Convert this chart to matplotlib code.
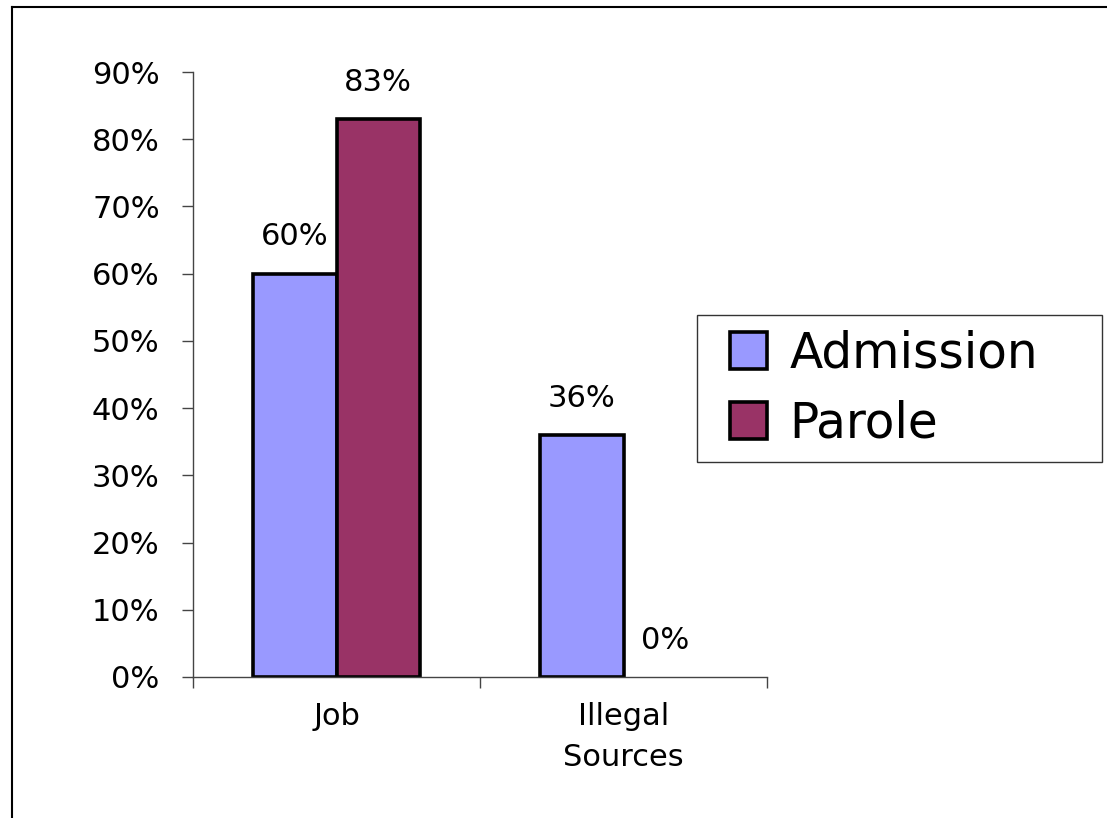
import numpy as np
import matplotlib.pyplot as plt
from matplotlib.lines import Line2D
from matplotlib.patches import Rectangle
from matplotlib.legend_handler import HandlerPatch

# data
categories = ['Job', 'Illegal\nSources']
admission = [60, 36]
parole = [83, 0]
series_names = ['Admission', 'Parole']
colors = ['#9999FF', '#993366']
yticks = [0, 10, 20, 30, 40, 50, 60, 70, 80, 90]

plt.rcParams['font.family'] = ['DejaVu Sans']

fig = plt.figure(figsize=(11.07, 8.18), dpi=100)
ax = fig.add_axes([193 / 1107, 1 - 677 / 818, (767 - 193) / 1107, (677 - 72) / 818])

x = np.arange(len(categories))
w = 0.29
b1 = ax.bar(x - w / 2, admission, w, color=colors[0], edgecolor='black',
            linewidth=2.6, label=series_names[0])
b2 = ax.bar(x + w / 2, parole, w, color=colors[1], edgecolor='black',
            linewidth=2.6, label=series_names[1])

for bars, vals in [(b1, admission), (b2, parole)]:
    for r, v in zip(bars, vals):
        if v == 0:
            r.set_linewidth(0)
        ax.annotate(f'{v}%', (r.get_x() + r.get_width() / 2, v),
                    xytext=(0, 16), textcoords='offset points',
                    ha='center', va='bottom', fontsize=22)

ax.set_xlim(-0.5, 1.5)
ax.set_ylim(0, 90)
ax.set_yticks(yticks)
ax.set_yticklabels([f'{t}%' for t in yticks], fontsize=22)
ax.yaxis.set_tick_params(length=8, width=1, pad=16, color='#444444')

ax.set_xticks(x)
ax.set_xticklabels(categories, fontsize=22, linespacing=1.5)
ax.tick_params(axis='x', length=0, pad=18)
ax.set_xticks([-0.5, 0.5, 1.5], minor=True)
ax.tick_params(axis='x', which='minor', length=8, width=1, color='#444444')

for s in ['top', 'right']:
    ax.spines[s].set_visible(False)
for s in ['left', 'bottom']:
    ax.spines[s].set_color('#444444')
    ax.spines[s].set_linewidth(1)


# square legend key pushed to the right of its box
def square_key(legend, orig_handle, xdescent, ydescent, width, height, fontsize):
    side = 27
    return Rectangle((-xdescent + width - side, -ydescent + (height - side) / 2), side, side)


def first_bar(handle, orig):
    handle.update_from(orig.patches[0])


key = HandlerPatch(patch_func=square_key, update_func=first_bar)

leg_top = 1 - 315 / 818
leg = ax.legend(loc='upper left',
                bbox_to_anchor=(697 / 1107, leg_top - 0.1, (1102 - 697) / 1107, 0.1),
                bbox_transform=fig.transFigure, mode='expand',
                fontsize=35, frameon=True, fancybox=False, borderaxespad=0,
                handlelength=1.15, handleheight=0.75, handletextpad=0.45,
                labelspacing=0.45, borderpad=0.3,
                handler_map={b1: key, b2: key})
leg.get_frame().set_edgecolor('black')
leg.get_frame().set_linewidth(1)
for h in leg.legend_handles:
    h.set_linewidth(2.6)

# outer border (top and left visible)
fig.add_artist(Line2D([12 / 1107, 12 / 1107], [0, 1 - 7 / 818], transform=fig.transFigure,
                      color='black', linewidth=1.5))
fig.add_artist(Line2D([12 / 1107, 1], [1 - 7 / 818, 1 - 7 / 818], transform=fig.transFigure,
                      color='black', linewidth=1.5))

fig.savefig('out.png', dpi=100)
